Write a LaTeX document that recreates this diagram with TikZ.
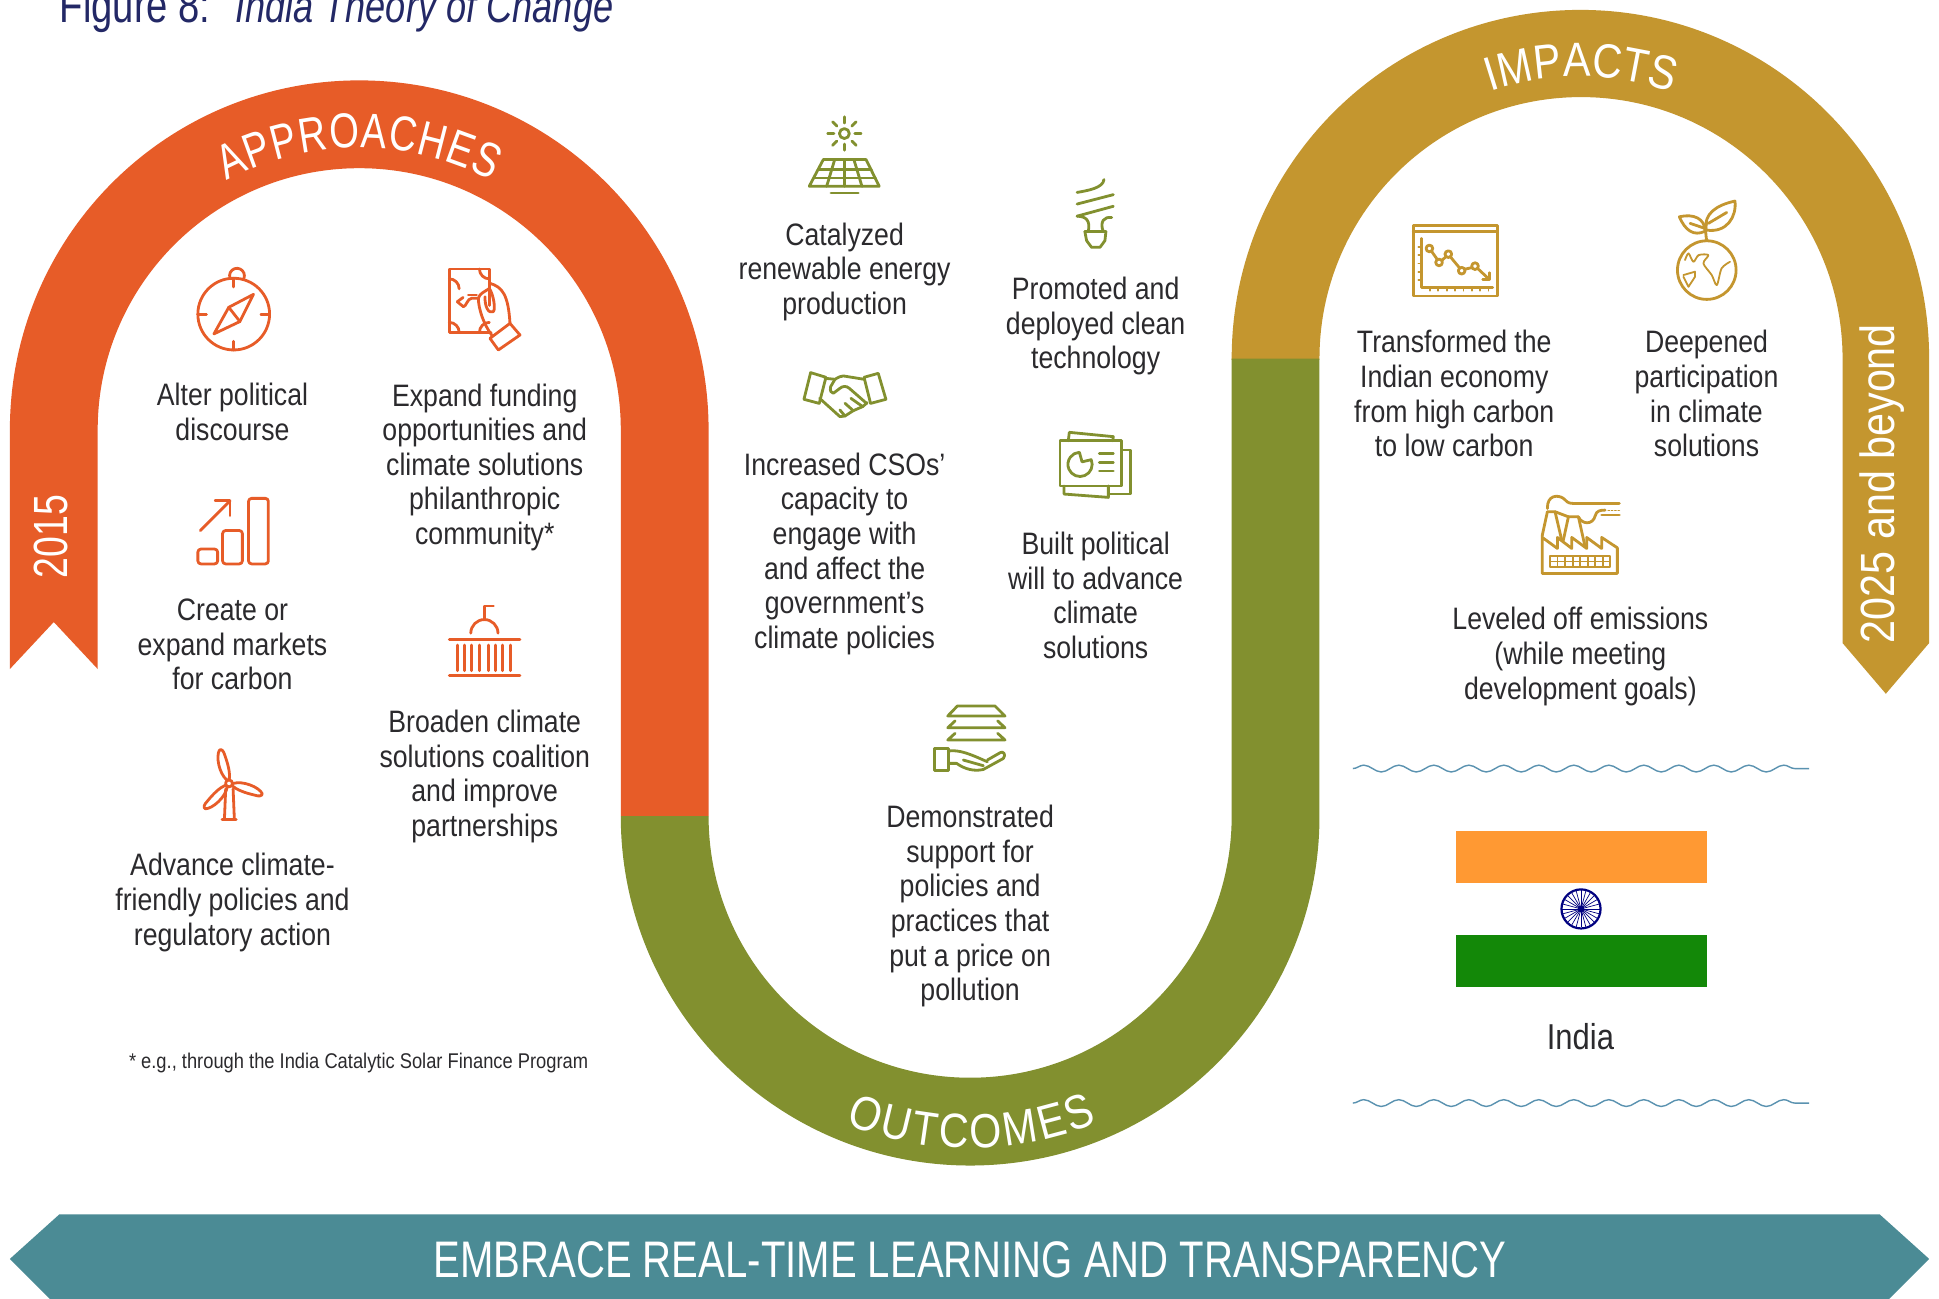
\documentclass[tikz,border=0pt]{standalone}
\usepackage{fontspec}
\usetikzlibrary{decorations.text,decorations.pathmorphing}
\setmainfont{Liberation Sans}
\newfontfamily\tf[FakeStretch=0.86]{Liberation Sans}
\newfontfamily\ccf[FakeStretch=0.78]{Liberation Sans}
\definecolor{cOrange}{HTML}{E75C28}
\definecolor{cOlive}{HTML}{82902F}
\definecolor{cGold}{HTML}{C4962F}
\definecolor{cTeal}{HTML}{4B8B95}
\definecolor{cText}{HTML}{2B2A2D}
\definecolor{cNavy}{HTML}{232866}
\definecolor{cWave}{HTML}{5A92B0}
\definecolor{cSaff}{HTML}{FF9933}
\definecolor{cGreen}{HTML}{138808}
\definecolor{cChakra}{HTML}{000080}
\newcommand{\bandfont}{\tf\fontsize{24}{28}\selectfont}
\newcommand{\bandfontn}{\ccf\fontsize{24.5}{28}\selectfont}
\tikzset{
  lbl/.style={align=center,inner sep=0pt,yshift=-2.1pt,text=cText,font=\tf\fontsize{15.5}{17.3}\selectfont,
    execute at begin node=\strut,execute at end node=\strut},
  ico/.style={draw=#1,line width=1.4pt,line cap=round,line join=round},
  icofine/.style={draw=#1,line width=0.9pt,line cap=round,line join=round},
  wavy/.style={draw=cWave,line width=0.7pt,decorate,decoration={snake,segment length=17.5,amplitude=1.7}},
}
\begin{document}
\begin{tikzpicture}[x=0.6183pt,y=0.6183pt]
\clip (0,0) rectangle (1568,-1049.7);
\fill[white] (0,0) rectangle (1568,-1049.7);

% ribbons
\fill[cOrange] (8,-541) -- (8,-347.5) arc[start angle=180,end angle=0,radius=282.5] -- (573,-660) -- (502,-660)
  -- (502,-347.5) arc[start angle=0,end angle=180,radius=211.5] -- (79,-541) -- (43.5,-503) -- cycle;
\fill[cGold] (996,-291) -- (996,-290) arc[start angle=180,end angle=0,radius=282] -- (1560,-520) -- (1525,-561) -- (1490,-520)
  -- (1490,-290) arc[start angle=0,end angle=180,radius=211.5] -- (1067,-291) -- cycle;
\fill[cOlive] (502,-660) arc[start angle=180,end angle=360,radius=282.5] -- (1067,-290) -- (996,-290)
  -- (996,-660) arc[start angle=0,end angle=-180,radius=211.5] -- cycle;
\fill[cTeal] (8,-1018) -- (48,-982) -- (1520,-982) -- (1560,-1018) -- (1522,-1056) -- (46,-1056) -- cycle;

% curved labels
\path[decorate,decoration={text along path,text={|\bandfontn\color{white}|APPROACHES},text align=fit to path}]
  (290.5,-347.5) ++(118:228) arc[start angle=118,end angle=62,radius=228];
\path[decorate,decoration={text along path,text={|\bandfont\color{white}|OUTCOMES},text align=fit to path}]
  (784.5,-660.5) ++(248:268) arc[start angle=248,end angle=292.5,radius=268];
\path[decorate,decoration={text along path,text={|\bandfont\color{white}|IMPACTS},text align=fit to path}]
  (1278,-290) ++(108.5:228) arc[start angle=108.5,end angle=71,radius=228];

\node[text=white,rotate=90,inner sep=0pt,font=\ccf\fontsize{24}{28}\selectfont] (y2015) at (41,-434) {2015};
\node[text=white,rotate=90,inner sep=0pt,font=\tf\fontsize{24}{28}\selectfont] (y2025) at (1522,-391) {2025 and beyond};
\node[text=white,inner sep=0pt,font=\ccf\fontsize{25.7}{30}\selectfont] (embrace) at (784.5,-1019) {EMBRACE REAL-TIME LEARNING AND TRANSPARENCY};
\node[text=cNavy,inner sep=0pt,anchor=base west,font=\ccf\fontsize{24.5}{28}\selectfont] (title) at (48,-18) {Figure 8:\hspace{0.5em}\fontsize{23.2}{28}\selectfont\itshape India Theory of Change};

% approaches labels
\node[lbl] (t1) at (188,-334) {Alter political\\discourse};
\node[lbl] (t2) at (392,-376) {Expand funding\\opportunities and\\climate solutions\\philanthropic\\community*};
\node[lbl] (t3) at (188,-522) {Create or\\expand markets\\for carbon};
\node[lbl] (t4) at (392,-626) {Broaden climate\\solutions coalition\\and improve\\partnerships};
\node[lbl] (t5) at (188,-728) {Advance climate-\\friendly policies and\\regulatory action};
\node[lbl,font=\tf\fontsize{10.65}{12}\selectfont] (foot) at (290,-857) {* e.g., through the India Catalytic Solar Finance Program};
% outcomes labels
\node[lbl] (o1) at (683,-218) {Catalyzed\\renewable energy\\production};
\node[lbl] (o2) at (683,-446) {Increased CSOs’\\capacity to\\engage with\\and affect the\\government’s\\climate policies};
\node[lbl] (o3) at (886,-262) {Promoted and\\deployed clean\\technology};
\node[lbl] (o4) at (886,-482) {Built political\\will to advance\\climate\\solutions};
\node[lbl] (o5) at (784.5,-731) {Demonstrated\\support for\\policies and\\practices that\\put a price on\\pollution};
% impacts labels
\node[lbl] (i1) at (1176,-319) {Transformed the\\Indian economy\\from high carbon\\to low carbon};
\node[lbl] (i2) at (1380,-319) {Deepened\\participation\\in climate\\solutions};
\node[lbl] (i3) at (1278,-529) {Leveled off emissions\\(while meeting\\development goals)};
\node[lbl,font=\tf\fontsize{18}{20}\selectfont] (india) at (1278,-839) {India};

% waves and flag
\draw[wavy] (1094,-621.5) -- (1463,-621.5);
\draw[wavy] (1094,-892) -- (1463,-892);
\fill[cSaff] (1177,-672) rectangle (1380.5,-714);
\fill[cGreen] (1177,-756) rectangle (1380.5,-798);
\foreach \a in {0,15,...,345} \draw[cChakra,line width=0.35pt] (1278.5,-735) -- ++(\a:15);
\draw[cChakra,line width=1.1pt] (1278.5,-735) circle[radius=15.8];
\fill[cChakra] (1278.5,-735) circle[radius=2.6];

% --- orange icons ---
% compass
\draw[ico=cOrange] (189,-254) circle[radius=29];
\draw[ico=cOrange] (186,-225) arc[start angle=200,end angle=-20,radius=6];
\foreach \a in {0,90,180,270} \draw[ico=cOrange] (189,-254) ++(\a:29) -- ++(\a+180:7);
\draw[ico=cOrange] (205,-238) -- (185,-248.5) -- (173,-270) -- (194,-260) -- cycle;
\draw[ico=cOrange] (185,-248.5) -- (194,-260);
% money hand
\draw[ico=cOrange] (395.7,-247) -- (395.7,-217.5) -- (363.3,-217.5) -- (363.3,-268.7) -- (397,-268.7);
\draw[ico=cOrange] (363.3,-225.5) arc[start angle=90,end angle=0,radius=8];
\draw[ico=cOrange] (387.7,-217.5) arc[start angle=180,end angle=270,radius=8];
\draw[ico=cOrange] (371.3,-268.7) arc[start angle=0,end angle=90,radius=8];
\draw[ico=cOrange] (387.7,-268.7) arc[start angle=180,end angle=90,radius=8];
\draw[ico=cOrange] (396.2,-229.1) .. controls (406,-232) and (411,-238) .. (412.4,-261.5);
\draw[ico=cOrange] (412.4,-261.5) -- (420.5,-270.9) -- (403,-283) -- (396.2,-273.6) -- cycle;
\draw[ico=cOrange] (386.8,-241.2) .. controls (387,-250) and (391,-262) .. (397.6,-270.9);
\draw[ico=cOrange] (386.8,-241.2) .. controls (388,-237) and (392,-236) .. (395.7,-233.2) .. controls (399,-238) and (401,-250) .. (398.9,-252) .. controls (395,-254) and (392,-248) .. (392.2,-239.9);
\draw[ico=cOrange] (369.8,-244) -- (374.7,-248) .. controls (377,-248) and (378,-241.2) .. (381.4,-241.2) -- (386.8,-241.2);
\draw[ico=cOrange] (369.8,-244) -- (374.5,-240.5);
\draw[ico=cOrange] (378.7,-238.6) -- (385.4,-238.6);
% bars
\draw[ico=cOrange,rounded corners=1.5pt] (160,-444) rectangle (176,-456);
\draw[ico=cOrange,rounded corners=1.5pt] (180,-429) rectangle (196,-456);
\draw[ico=cOrange,rounded corners=1.5pt] (201,-403) rectangle (217,-456);
\draw[ico=cOrange] (162,-429) -- (186,-405);
\draw[ico=cOrange] (174,-405) -- (186,-405) -- (186,-417);
% capitol
\draw[ico=cOrange] (391.7,-500.8) -- (391.7,-490) -- (399,-490);
\draw[ico=cOrange] (380.7,-512) arc[start angle=180,end angle=0,radius=11];
\draw[ico=cOrange] (363.3,-517) -- (420.5,-517);
\draw[ico=cOrange] (363.3,-546.4) -- (420.5,-546.4);
\foreach \x in {370,375.5,381.5,387.7,395,400.4,406.3,412.5} \draw[ico=cOrange] (\x,-521.6) -- (\x,-542.4);
% turbine
\draw[ico=cOrange] (185.2,-633.5) circle[radius=2.8];
\foreach \a in {104,-19,225} {
  \draw[ico=cOrange,shift={(185.2,-633.5)},rotate=\a] (3,1) .. controls (10,6) and (24,5) .. (28,1) .. controls (29,-1) and (26,-2.2) .. (23,-2.2) .. controls (15,-3) and (8,-3) .. (3,-1);
}
\draw[ico=cOrange] (182.5,-638) -- (181.5,-662);
\draw[ico=cOrange] (188.5,-638) -- (189.5,-662);
\draw[ico=cOrange] (179.5,-662.5) -- (191,-662.5);

% --- olive icons ---
% solar
\draw[ico=cOlive] (682.8,-108) circle[radius=4];
\foreach \a in {0,45,...,315} \draw[ico=cOlive] (682.8,-108) ++(\a:8.5) -- ++(\a:5);
\draw[ico=cOlive] (665.8,-129) -- (700.3,-129) -- (711,-150.6) -- (654.4,-150.6) -- cycle;
\draw[ico=cOlive] (661.5,-137) -- (704.5,-137);
\draw[ico=cOlive] (658,-144) -- (708,-144);
\draw[ico=cOlive] (682.8,-129) -- (682.8,-150.6);
\draw[ico=cOlive] (675,-129) -- (668.5,-150.6);
\draw[ico=cOlive] (690.5,-129) -- (697,-150.6);
\draw[ico=cOlive] (672,-156) -- (694,-156);
% bulb
\draw[ico=cOlive] (871,-155.6) .. controls (880,-154) and (892,-152) .. (892.7,-145.2);
\draw[ico=cOlive] (871,-165) -- (900.3,-157.4);
\draw[ico=cOlive] (871,-174.8) -- (900.3,-166.8);
\draw[ico=cOlive] (871,-174.8) .. controls (878,-175) and (882,-178) .. (880,-187.4);
\draw[ico=cOlive] (899,-175.9) .. controls (893,-175) and (889,-179) .. (892.2,-187.4);
\draw[ico=cOlive] (877.3,-187.4) -- (894.3,-187.4);
\draw[ico=cOlive] (877.3,-187.4) -- (878.7,-194.6) -- (882.7,-200) -- (889.5,-200) -- (893.5,-194.6) -- (894.3,-187.4);
% handshake
\draw[ico=cOlive] (655.5,-301.3) -- (667.9,-305.1) -- (662.5,-326.2) -- (650.1,-322.9) -- cycle;
\draw[ico=cOlive] (698.7,-305.1) -- (710.2,-301.9) -- (716.4,-322.9) -- (704,-326.2) -- cycle;
\draw[ico=cOlive] (667.1,-305.9) -- (675.2,-306.7) .. controls (678,-305) and (680,-304) .. (682,-304) -- (698.7,-306.7);
\draw[ico=cOlive] (675.2,-306.7) -- (671.7,-312.7) .. controls (671,-316) and (672,-318) .. (673.9,-318) -- (679.2,-314) .. controls (681,-312.5) and (684,-311.5) .. (686.8,-314) -- (700.8,-326.2);
\draw[ico=cOlive] (662.8,-322.1) -- (679.2,-336.9) -- (683.3,-336.4) -- (690,-332.1) -- (697.6,-328.8) -- (701.3,-325.6);
\draw[ico=cOlive] (679.2,-331.5) -- (683.3,-336.4);
\draw[ico=cOlive] (683.3,-326.1) -- (690,-332.1);
\draw[ico=cOlive] (688.1,-322.1) -- (697.6,-328.8);
% documents
\draw[ico=cOlive] (857.2,-356.4) rectangle (907.1,-393);
\draw[ico=cOlive] (863.9,-356.4) -- (864.7,-349.6) -- (900.3,-353.1) -- (899.8,-356.4);
\draw[ico=cOlive] (907.1,-363.9) -- (914.3,-363.9) -- (914.3,-399.5) -- (897.1,-399.5);
\draw[ico=cOlive] (860.4,-393) -- (860.4,-399.5) -- (896.3,-402.2) -- (896.3,-393);
\draw[ico=cOlive] (882.4,-371.7) arc[start angle=23,end angle=-267,radius=9.8] -- (875,-373.5) -- cycle;
\foreach \y in {366.6,373.9,380.9} \draw[ico=cOlive] (889,-\y) -- (900.3,-\y);
% stack in hand
\draw[ico=cOlive] (774.2,-570.9) -- (804.6,-570.9) -- (812.7,-579) -- (766.4,-579) -- cycle;
\draw[ico=cOlive] (772.3,-583) -- (766.4,-588.5) -- (812.7,-588.5) -- (806.8,-583);
\draw[ico=cOlive] (772.3,-593) -- (766.4,-598.4) -- (812.7,-598.4) -- (806.8,-593);
\draw[ico=cOlive] (756,-605.2) rectangle (766.9,-623.2);
\draw[ico=cOlive] (766.9,-607.3) .. controls (776,-606) and (785,-610) .. (798.4,-616);
\draw[ico=cOlive] (766.9,-617.3) -- (773.6,-617.3) .. controls (780,-622) and (788,-624) .. (795.2,-622.2) -- (811.4,-613.3) .. controls (814,-610) and (811,-607) .. (808.7,-608.7) -- (798.4,-614.6);
\draw[ico=cOlive] (779,-614.6) -- (795.2,-619.2);

% --- gold icons ---
% chart
\draw[ico=cGold] (1142.9,-182.5) rectangle (1210.9,-239.4);
\draw[ico=cGold] (1142.9,-187.4) -- (1210.9,-187.4);
\draw[ico=cGold] (1149.6,-192.8) -- (1149.6,-232.4) -- (1207,-232.4);
\foreach \y in {199.5,206.3,213,219.7,226.5} \draw[icofine=cGold] (1147,-\y) -- (1149.6,-\y);
\foreach \x in {1156.4,1163.1,1169.9,1176.6,1183.4,1190.1,1196.8,1203.6} \draw[icofine=cGold] (\x,-232.4) -- (\x,-235);
\draw[ico=cGold] (1157.5,-203) -- (1162.4,-210);
\draw[ico=cGold] (1166,-210.5) -- (1169.5,-207.4);
\draw[ico=cGold] (1172.8,-207.6) -- (1180.4,-216.8);
\draw[ico=cGold] (1184.4,-217.7) -- (1190.3,-216.4);
\draw[ico=cGold] (1194.8,-217) -- (1204.4,-226);
\draw[ico=cGold] (1204.4,-220.5) -- (1204.4,-226) -- (1199,-226);
\foreach \x/\y in {1155.9/200.9,1163.7/212.2,1171.2/205.5,1182/218.9,1192.8/215.2} \draw[ico=cGold] (\x,-\y) circle[radius=2.7];
% globe
\draw[ico=cGold] (1380.2,-218.4) circle[radius=23.7];
\draw[ico=cGold] (1380.2,-194.7) .. controls (1379,-188) and (1379,-185) .. (1380.2,-179.3);
\draw[ico=cGold] (1379.6,-186) .. controls (1377.5,-172.6) and (1388.3,-165.8) .. (1403,-162.6) .. controls (1404.4,-175.3) and (1396.4,-188.7) .. (1379.6,-186);
\draw[ico=cGold] (1381.5,-180.6) -- (1396.3,-171.8);
\draw[ico=cGold] (1378.8,-187) .. controls (1369.4,-191.4) and (1362.6,-186) .. (1358,-175.3) .. controls (1369.4,-172.6) and (1378.8,-176.6) .. (1378.8,-187);
\draw[ico=cGold] (1366.7,-180.6) -- (1378.8,-184.7);
\draw[icofine=cGold] plot[smooth,tension=0.5] coordinates {(1362.6,-210.3) (1365.4,-204.9) (1369.4,-211.7) (1373.6,-206.3) (1381.5,-206.3) (1377.5,-213) (1384.2,-222.4) (1388.3,-230.5) (1392.2,-217) (1399,-211.7)};
\draw[icofine=cGold] (1361.3,-222.4) -- (1370.7,-219.7) -- (1370.7,-223.8) -- (1365.4,-231.9) -- (1361.3,-223.8);
% factory
\draw[ico=cGold] (1247.2,-432.7) -- (1247.2,-463.7) -- (1307.9,-463.7) -- (1307.9,-443) -- (1295.2,-434.6) -- (1295.2,-443.5) -- (1283.1,-434.6) -- (1283.1,-443.5) -- (1271,-434.6) -- (1271,-443.5) -- (1259.4,-434.6) -- (1259.4,-443.5) -- (1247.2,-434.6);
\draw[ico=cGold] (1247.2,-432.7) -- (1251.3,-413.8) -- (1257.5,-413.8) -- (1262.9,-436.8);
\draw[ico=cGold] (1264.2,-436.8) -- (1268.3,-417.9) -- (1276.4,-417.9) -- (1281.8,-442.2);
\draw[ico=cGold] (1257.5,-413.8) -- (1268.3,-417.9);
\draw[ico=cGold] (1251.3,-411.2) .. controls (1251,-400) and (1260,-400) .. (1264.2,-403) .. controls (1267,-405) and (1267,-407.1) .. (1272,-407.1) -- (1309.5,-407.1);
\draw[ico=cGold] (1276.4,-417.9) .. controls (1279,-424) and (1288,-425) .. (1290,-417) .. controls (1291,-413) and (1294,-412.5) .. (1298,-412.5);
\foreach \x in {1300.6,1303.2,1305.9,1308.6} \draw[icofine=cGold] (\x,-412.8) -- (\x+0.8,-412.8);
\draw[ico=cGold] (1295.2,-416.5) -- (1309.5,-416.5);
\draw[icofine=cGold] (1253.4,-449.7) rectangle (1302,-458.4);
\draw[icofine=cGold] (1253.4,-454) -- (1302,-454);
\foreach \x in {1259.5,1265.6,1271.7,1277.8,1283.9,1290,1296} \draw[icofine=cGold] (\x,-449.7) -- (\x,-458.4);
\end{tikzpicture}
\end{document}
